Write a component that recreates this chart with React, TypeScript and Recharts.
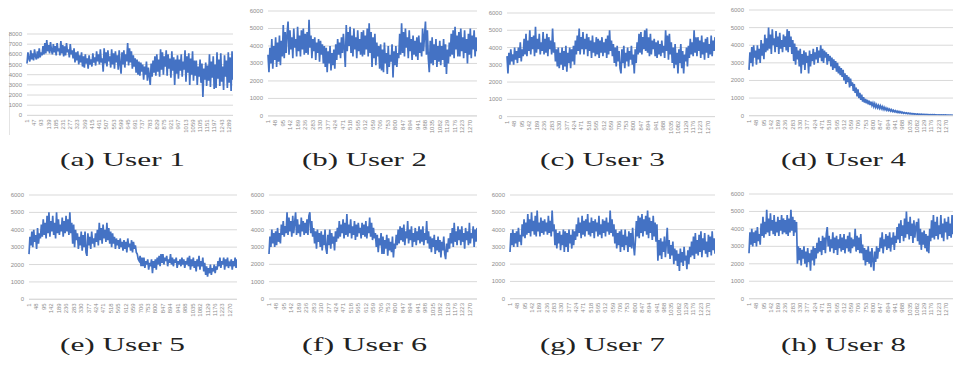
import React from "react";
import { CartesianGrid, Line, LineChart, XAxis, YAxis } from "recharts";

// record number of each plotted sample (every 6th request)
const SAMPLE = Array.from({ length: 220 }, (_, i) => 1 + i * 6);

const ticksUser1 = [
  1, 47, 93, 139, 185, 231, 277, 323, 369, 415, 461, 507, 553, 599, 645, 691, 737, 783, 829, 875, 921,
  967, 1013, 1059, 1105, 1151, 1197, 1243, 1289,
];
const ticksOthers = [
  1, 48, 95, 142, 189, 236, 283, 330, 377, 424, 471, 518, 565, 612, 659, 706, 753, 800, 847, 894, 941,
  988, 1035, 1082, 1129, 1176, 1223, 1270,
];

const user1 = [
  5100, 6200, 5600, 5300, 6400, 5500, 6100, 5400, 6500, 5800, 5500, 6300, 5600, 6600, 5700, 6200, 5900, 6800, 6000, 7100,
  6100, 7400, 6300, 6900, 6100, 7200, 6400, 6000, 7000, 6200, 6800, 5900, 7100, 6300, 6600, 5900, 7300, 6100, 6900, 5800,
  6800, 5900, 7100, 6200, 6500, 5700, 7000, 6000, 6400, 5600, 6600, 5200, 6200, 5400, 6300, 5000, 5900, 5200, 6200, 4800,
  5800, 4700, 6000, 5100, 5600, 4600, 5900, 5000, 5500, 4800, 6100, 5200, 5700, 4900, 6300, 5300, 6000, 5000, 6500, 5200,
  5600, 4300, 6600, 5100, 6200, 4800, 6400, 5300, 5800, 4700, 6500, 5000, 6100, 4600, 6300, 5200, 5900, 4500, 6400, 5000,
  4100, 6200, 5000, 6400, 4700, 6000, 5300, 7100, 4900, 6600, 5200, 6300, 4600, 5900, 4800, 5600, 4200, 5500, 4000, 5300,
  3900, 5200, 4300, 5000, 3500, 4800, 4000, 5300, 3400, 4700, 3900, 3000, 5100, 3800, 5400, 4200, 5800, 3900, 6000, 4300,
  5500, 3800, 6500, 4500, 6200, 4000, 5800, 4800, 6400, 3900, 6000, 4600, 5600, 3700, 6300, 4400, 5700, 3000, 5500, 4100,
  5900, 3600, 5500, 4400, 6000, 3800, 5300, 4500, 6400, 3300, 5800, 4200, 6100, 3000, 5600, 4000, 6300, 3400, 5400, 3900,
  5400, 3000, 4800, 3800, 5500, 3200, 5100, 1800, 4600, 3500, 5200, 2900, 4900, 3400, 6000, 2800, 5300, 3700, 5800, 2600,
  5000, 2700, 6200, 3600, 5500, 2900, 6100, 3300, 4800, 2500, 5900, 3800, 5400, 2700, 6200, 3200, 5700, 2400, 6300, 3500,
];
const user2 = [
  3500, 2500, 3900, 3000, 4400, 2700, 4000, 3200, 4500, 2800, 4200, 3100, 4600, 2900, 4300, 3400, 5200, 3300, 4800, 3600,
  4700, 5400, 3500, 4900, 3800, 4500, 3300, 5000, 3900, 4400, 3400, 5100, 3700, 4600, 3400, 4900, 3800, 5000, 3500, 4700,
  3600, 4800, 3500, 5500, 3900, 4600, 3300, 4400, 3700, 4500, 3200, 4200, 3600, 4400, 3100, 4300, 3500, 4100, 3000, 4000,
  2800, 3900, 2500, 3700, 3000, 4000, 2600, 3600, 2900, 3800, 2700, 4100, 3200, 4400, 3500, 4200, 3300, 4500, 3600, 4700,
  3800, 2800, 5200, 3700, 4800, 4000, 5100, 3600, 4600, 3400, 5000, 3800, 4500, 3300, 4900, 3700, 4400, 3500, 4800, 3400,
  4900, 3500, 4600, 3800, 5000, 3400, 5300, 3600, 4800, 2800, 4500, 3300, 4700, 2900, 4200, 3400, 4000, 2700, 4100, 2600,
  3800, 2500, 4200, 3000, 3600, 2400, 4000, 2800, 3500, 3100, 4100, 2200, 3700, 2900, 4000, 2800, 3600, 3300, 4700, 3500,
  5300, 3600, 4800, 3400, 5000, 3900, 4500, 3300, 4900, 3700, 4400, 3200, 4600, 3500, 4300, 3400, 4500, 3200, 4600, 3600,
  4200, 3400, 5000, 3700, 4600, 5400, 3500, 4900, 3300, 2500, 4300, 3000, 4500, 2900, 4100, 3200, 4400, 2800, 4000, 3100,
  4300, 2900, 4000, 3200, 4400, 2800, 4100, 2400, 3800, 3000, 4200, 3400, 4700, 3500, 4900, 3300, 5100, 3800, 4600, 3400,
  4800, 3400, 5000, 3700, 4500, 3300, 4900, 3600, 4400, 3000, 4700, 3500, 5000, 3300, 4600, 3800, 4900, 3400, 4500, 3700,
];
const user3 = [
  3500, 2500, 3700, 3000, 3900, 3200, 3600, 3000, 4000, 3300, 3800, 3100, 4000, 3400, 4300, 3200, 3900, 3500, 4500, 3600,
  4800, 3500, 4400, 3800, 5000, 3600, 4600, 3900, 4700, 3500, 5200, 3700, 4500, 3900, 4800, 3600, 4300, 3800, 4900, 3600,
  4500, 3700, 4800, 3500, 4600, 3900, 4400, 3600, 5100, 3700, 4300, 3200, 3900, 2900, 4000, 2800, 3700, 3000, 4000, 2700,
  3800, 2900, 4100, 2600, 3700, 3100, 4000, 2800, 3900, 3200, 4100, 3000, 4400, 3600, 4700, 3800, 5100, 3600, 4600, 3900,
  4900, 3600, 4500, 3900, 4800, 3500, 4600, 3800, 4400, 3400, 4700, 3700, 4300, 3500, 4600, 3600, 4500, 3400, 4400, 3700,
  4600, 3500, 4300, 3700, 4500, 3400, 4700, 3600, 5000, 3800, 4400, 3500, 4200, 3100, 4000, 2900, 4100, 3200, 3800, 2800,
  2500, 3900, 3100, 4100, 2800, 3700, 3200, 4000, 2900, 3800, 3300, 4100, 3000, 3600, 2500, 3900, 3100, 4300, 3600, 4800,
  3700, 4900, 3600, 4600, 3900, 5000, 3800, 5100, 3700, 4600, 3500, 4800, 3600, 4400, 3900, 4500, 3500, 4300, 3400, 4400,
  3600, 4200, 3500, 4400, 3700, 4100, 3400, 5000, 3800, 4700, 3300, 4800, 3600, 4300, 3100, 4000, 2800, 4200, 3000, 3700,
  2500, 3900, 3100, 4200, 2800, 3800, 2500, 3600, 3200, 4000, 2900, 4100, 3400, 4500, 3600, 4300, 3500, 5000, 3700, 4600,
  3500, 4600, 3800, 4400, 3400, 4700, 3600, 4300, 3300, 4500, 3700, 4600, 3400, 4200, 3600, 4700, 3500, 4400, 3800, 4600,
];
const user4 = [
  2600, 3600, 3000, 3900, 2800, 4000, 3300, 3700, 2900, 4000, 3200, 3800, 3000, 4300, 3400, 4100, 3200, 4600, 3600, 4400,
  3700, 5000, 3800, 4600, 3500, 4900, 4000, 4400, 3600, 4800, 3900, 4500, 3500, 4700, 3800, 4300, 3600, 4600, 3900, 4500,
  3700, 4900, 3600, 4800, 3900, 4500, 3500, 4300, 3100, 4100, 2900, 3900, 3200, 3700, 2800, 3800, 2400, 3500, 2900, 3700,
  2600, 3600, 3000, 3400, 2400, 3700, 2800, 3500, 3100, 3800, 2900, 3600, 3200, 3900, 3000, 3700, 3300, 4000, 3100, 3800,
  3000, 3700, 3300, 3600, 2900, 3500, 3100, 3400, 2800, 3300, 2600, 3200, 2700, 3100, 2500, 3000, 2400, 2800, 2300, 2700,
  2200, 2600, 2000, 2400, 1800, 2300, 1900, 2200, 1600, 2100, 1700, 1900, 1400, 1800, 1300, 1600, 1100, 1500, 1000, 1300,
  900, 1200, 800, 1050, 750, 950, 700, 900, 650, 850, 600, 800, 580, 720, 520, 680, 480, 620, 450, 580,
  420, 560, 400, 520, 360, 480, 340, 440, 310, 400, 290, 370, 260, 340, 240, 310, 220, 280, 200, 260,
  180, 240, 170, 220, 150, 200, 140, 180, 125, 165, 115, 150, 105, 135, 95, 125, 90, 115, 80, 105,
  75, 95, 70, 90, 65, 85, 60, 78, 58, 72, 55, 68, 52, 64, 50, 60, 47, 57, 45, 55,
  43, 52, 40, 50, 38, 47, 36, 45, 34, 42, 32, 40, 30, 38, 28, 36, 27, 34, 25, 32,
];
const user5 = [
  2600, 3600, 3100, 3900, 3000, 4000, 3300, 3700, 2900, 4100, 3200, 3800, 3500, 4300, 3600, 4600, 3700, 4400, 3500, 4800,
  3800, 5000, 3600, 4500, 3900, 4800, 3700, 4400, 3500, 5000, 3800, 4600, 3700, 4300, 3900, 4700, 3600, 4500, 3800, 4800,
  3900, 4600, 3700, 5000, 3800, 4400, 3200, 4300, 3000, 4000, 3400, 3800, 2900, 3600, 3100, 3900, 2800, 3700, 3000, 3900,
  2700, 2500, 3800, 3100, 3600, 2900, 3900, 3200, 3500, 3000, 3800, 3300, 4000, 3100, 4400, 3400, 4100, 3200, 4300, 3500,
  4000, 3300, 4400, 3400, 4100, 3200, 3900, 3000, 3800, 3200, 3600, 2900, 3500, 3100, 3400, 2900, 3500, 3000, 3300, 2800,
  3400, 2900, 3300, 2700, 3500, 3000, 3200, 2800, 3400, 2700, 3300, 2900, 3100, 2700, 2600, 2300, 2200, 2500, 1900, 2400,
  1900, 2400, 1800, 2200, 2000, 2300, 1700, 2100, 1900, 2300, 1500, 2200, 1800, 2300, 1700, 2400, 2000, 2500, 1900, 2600,
  2100, 2600, 2000, 2400, 2200, 2500, 1900, 2300, 2100, 2600, 2000, 2400, 1900, 2300, 2100, 2400, 1800, 2200, 2000, 2300,
  1900, 2400, 2000, 2300, 1800, 2200, 2000, 2400, 1900, 2500, 1700, 2300, 1900, 2400, 1800, 2200, 1600, 2300, 1900, 2500,
  1700, 2200, 1900, 2400, 1600, 2100, 1400, 1900, 1300, 1800, 1500, 2000, 1400, 1800, 1600, 2000, 1500, 1900, 1700, 2200,
  1900, 2400, 1800, 2200, 2000, 2400, 1700, 2300, 1900, 2400, 1800, 2100, 2000, 2300, 1700, 2200, 1900, 2400, 1800, 2300,
];
const user6 = [
  2600, 3600, 3000, 4000, 3200, 3800, 3000, 3900, 3100, 4100, 3300, 3800, 3200, 4300, 3700, 4500, 3600, 4200, 3800, 5000,
  3700, 4700, 3900, 4500, 3600, 4800, 3800, 4400, 5000, 3700, 4600, 3800, 4300, 3600, 4700, 3900, 4500, 3700, 4400, 3800,
  4600, 3700, 4800, 5000, 3800, 4500, 3600, 4100, 3200, 3900, 2900, 4000, 3300, 3800, 3000, 3900, 2800, 3700, 3100, 4000,
  2900, 2600, 3700, 3100, 4000, 2900, 3800, 3200, 3600, 2800, 3900, 3300, 4100, 3500, 4500, 3600, 4300, 3800, 4600, 3500,
  4400, 3700, 4900, 3600, 4300, 3800, 4600, 3500, 4200, 3700, 4500, 3400, 4300, 3600, 4400, 3800, 4100, 3500, 4400, 3700,
  4300, 3600, 4500, 3500, 4200, 3800, 4700, 3600, 4400, 3400, 4100, 3500, 3800, 3000, 3700, 2700, 3500, 3100, 3800, 2600,
  3600, 2600, 3400, 2900, 3700, 2500, 3500, 2800, 3300, 2700, 3600, 2400, 3200, 2900, 3700, 3100, 4000, 3200, 4200, 3400,
  4100, 3300, 4300, 3100, 3900, 3500, 4500, 3200, 4000, 3400, 4200, 3000, 3800, 3300, 4100, 3100, 3900, 3400, 4200, 3200,
  4000, 3300, 4200, 3100, 3800, 3400, 4500, 3200, 3900, 2900, 3600, 2700, 3500, 3000, 3700, 2600, 3400, 2800, 3600, 2700,
  3400, 2400, 3300, 2800, 3600, 2600, 2300, 3200, 2700, 3500, 2900, 3800, 3200, 4100, 3000, 4400, 3300, 3900, 3100, 4200,
  3400, 4000, 3100, 4200, 3300, 3800, 2900, 4100, 3400, 3900, 3100, 4400, 3200, 3800, 3500, 4200, 3000, 4000, 3300, 4100,
];
const user7 = [
  2700, 3800, 3100, 4000, 3000, 3800, 3200, 3900, 3000, 4100, 3300, 3700, 3100, 4300, 3600, 4600, 3500, 4400, 3700, 4900,
  3800, 4600, 3600, 5000, 3900, 4500, 3700, 4800, 3600, 5100, 3900, 4400, 3600, 4700, 3800, 4500, 3700, 4600, 3900, 4400,
  3700, 4800, 3800, 4500, 3600, 5100, 3900, 4300, 3100, 4000, 2900, 3800, 3200, 3900, 2800, 3700, 3100, 4000, 2700, 3900,
  3000, 3800, 2700, 4000, 3200, 3700, 2900, 4000, 3100, 3900, 3400, 4300, 3600, 4700, 3800, 4400, 3500, 4800, 3700, 4500,
  3600, 4600, 3900, 4900, 3700, 4400, 3600, 4700, 3800, 4500, 3500, 4600, 3900, 4400, 3600, 4800, 3700, 4300, 3500, 4600,
  3800, 4500, 3600, 4700, 3900, 4400, 3700, 5100, 3800, 4600, 3600, 4300, 3200, 4000, 2900, 3800, 3100, 3900, 2700, 4000,
  3000, 3700, 2800, 4000, 3100, 3600, 2700, 3900, 3000, 3800, 2900, 4100, 3100, 2500, 3400, 4500, 3600, 4800, 3500, 4700,
  3800, 4900, 3600, 4600, 3900, 4800, 3700, 5100, 3500, 4700, 3800, 4500, 3400, 4800, 3600, 4400, 3300, 4300, 2200, 3400,
  2500, 3500, 2300, 3300, 2700, 3600, 2400, 3200, 4100, 2600, 3400, 2300, 3100, 2500, 3300, 2000, 2900, 2200, 2800, 1900,
  2600, 1600, 2900, 2100, 2700, 1900, 3000, 2200, 2500, 1700, 2800, 2000, 3000, 2400, 3300, 2500, 3600, 2300, 3800, 2600,
  3400, 2500, 3700, 2700, 3900, 2400, 3500, 2800, 3800, 2600, 3300, 2400, 3700, 2700, 3600, 2500, 3900, 2800, 3500, 2600,
];
const user8 = [
  2600, 3800, 3100, 4000, 3000, 3800, 3200, 3900, 3000, 4100, 3300, 3700, 3100, 4300, 3600, 4700, 3500, 4400, 3700, 5100,
  3800, 4600, 3600, 4900, 3900, 4500, 3700, 4800, 3600, 4400, 3800, 4700, 3600, 4500, 3900, 4800, 3700, 4600, 3800, 4500,
  3700, 4800, 3600, 4600, 3800, 5100, 3900, 4700, 3600, 4500, 3800, 4400, 2000, 3000, 2200, 2900, 1900, 2800, 2300, 3000,
  2000, 2700, 1800, 2900, 2100, 2600, 1600, 2800, 2200, 3000, 1900, 2900, 2300, 3200, 2600, 3500, 2700, 3300, 2500, 3600,
  2800, 3500, 2600, 3700, 4100, 3000, 3600, 2700, 3400, 2900, 3800, 2600, 3500, 2800, 3600, 2500, 3400, 2900, 3700, 2700,
  3500, 2800, 3700, 2600, 3400, 2900, 3600, 2700, 3800, 2600, 3500, 2900, 3400, 3000, 4000, 2700, 3600, 2800, 3500, 2600,
  3700, 2600, 3100, 2200, 2900, 1900, 2800, 2100, 3000, 2000, 2700, 1800, 2900, 2200, 1600, 2700, 2100, 3000, 2300, 2900,
  2700, 3500, 2900, 3800, 2600, 3400, 3000, 3700, 2800, 3600, 2900, 3800, 2700, 3500, 3100, 3800, 2800, 3600, 3200, 4100,
  3400, 4300, 3200, 4500, 3600, 4200, 3300, 4600, 3500, 5000, 3700, 4400, 3400, 4700, 3600, 4300, 3200, 4500, 3500, 4100,
  4400, 3300, 4600, 3100, 4000, 2800, 3800, 3100, 3900, 2900, 3700, 2700, 3600, 2600, 4000, 3300, 4500, 3500, 4800, 3400,
  4400, 3600, 4700, 3400, 4200, 3700, 4800, 3500, 4300, 3300, 4600, 3800, 4400, 3400, 4700, 3600, 4300, 3500, 4800, 3700,
];

const ticks8000 = [0, 1000, 2000, 3000, 4000, 5000, 6000, 7000, 8000];
const ticks6000 = [0, 1000, 2000, 3000, 4000, 5000, 6000];

const BLUE = "#4472C4";
const GRID = "#d9d9d9";
const LABEL = "#8c8c8c";
const Y_AXIS_W = 24;
const X_AXIS_H = 24;
const TOP_PAD = 6;

type Panel = {
  caption: string;
  values: number[];
  xTicks: number[];
  yTicks: number[];
  left: number; // plot area left edge
  right: number; // plot area right edge
  top: number; // y of the highest gridline
  zero: number; // y of the zero line
  capX: number;
  capY: number;
};

const panels: Panel[] = [
  { caption: "(a) User 1", values: user1, xTicks: ticksUser1, yTicks: ticks8000, left: 27, right: 233, top: 34.3, zero: 115.7, capX: 60, capY: 166 },
  { caption: "(b) User 2", values: user2, xTicks: ticksOthers, yTicks: ticks6000, left: 268, right: 477, top: 10.8, zero: 115.7, capX: 302, capY: 166 },
  { caption: "(c) User 3", values: user3, xTicks: ticksOthers, yTicks: ticks6000, left: 507, right: 715, top: 13.4, zero: 117, capX: 540, capY: 166 },
  { caption: "(d) User 4", values: user4, xTicks: ticksOthers, yTicks: ticks6000, left: 749, right: 953, top: 10, zero: 115.7, capX: 781, capY: 166 },
  { caption: "(e) User 5", values: user5, xTicks: ticksOthers, yTicks: ticks6000, left: 29, right: 237, top: 194.7, zero: 299, capX: 60, capY: 351 },
  { caption: "(f) User 6", values: user6, xTicks: ticksOthers, yTicks: ticks6000, left: 269, right: 477, top: 195.3, zero: 299.3, capX: 302, capY: 351 },
  { caption: "(g) User 7", values: user7, xTicks: ticksOthers, yTicks: ticks6000, left: 510, right: 715, top: 195.3, zero: 299, capX: 540, capY: 351 },
  { caption: "(h) User 8", values: user8, xTicks: ticksOthers, yTicks: ticks6000, left: 749, right: 953, top: 194, zero: 298.7, capX: 781, capY: 351 },
];

function XTick({ x, y, payload }: { x?: number; y?: number; payload?: { value: number } }) {
  return (
    <text
      x={x}
      y={y}
      transform={`rotate(-90 ${x} ${y})`}
      textAnchor="end"
      dominantBaseline="central"
      fontSize={6}
      fill={LABEL}
      fontFamily="Liberation Sans, Arial, sans-serif"
    >
      {payload?.value}
    </text>
  );
}

function YTick({ x, y, payload }: { x?: number; y?: number; payload?: { value: number } }) {
  return (
    <text
      x={x}
      y={y}
      textAnchor="end"
      dominantBaseline="central"
      fontSize={6}
      fill={LABEL}
      fontFamily="Liberation Sans, Arial, sans-serif"
    >
      {payload?.value}
    </text>
  );
}

function UserChart({ p }: { p: Panel }) {
  const rows = p.values.map((v, i) => ({ n: SAMPLE[i], v }));
  const boxX = p.left - Y_AXIS_W;
  const boxY = p.top - TOP_PAD;
  const w = p.right - boxX;
  const h = TOP_PAD + (p.zero - p.top) + X_AXIS_H;
  const yMax = p.yTicks[p.yTicks.length - 1];
  return (
    <div style={{ position: "absolute", left: boxX, top: boxY, width: w, height: h }}>
      <LineChart width={w} height={h} data={rows} margin={{ top: TOP_PAD, right: 0, bottom: 0, left: 0 }}>
        <CartesianGrid vertical={false} stroke={GRID} strokeWidth={1} />
        <XAxis
          dataKey="n"
          type="number"
          domain={[1, 1315]}
          ticks={p.xTicks}
          interval={0}
          height={X_AXIS_H}
          stroke={GRID}
          tickLine={false}
          tickSize={3}
          tickMargin={1}
          tick={<XTick />}
        />
        <YAxis
          type="number"
          domain={[0, yMax]}
          ticks={p.yTicks}
          interval={0}
          width={Y_AXIS_W}
          axisLine={false}
          tickLine={false}
          tickSize={3}
          tickMargin={2}
          tick={<YTick />}
        />
        <Line
          type="linear"
          dataKey="v"
          stroke={BLUE}
          strokeWidth={1.7}
          dot={false}
          isAnimationActive={false}
        />
      </LineChart>
    </div>
  );
}

export default function App() {
  return (
    <div style={{ position: "absolute", left: 0, top: 0, width: 953, height: 367, background: "#fff", overflow: "hidden" }}>
      {/* faint frame edge left of the first panel */}
      <div style={{ position: "absolute", left: 9, top: 32, width: 1, height: 103, background: "#e4e4e4" }} />
      {panels.map((p) => (
        <UserChart key={p.caption} p={p} />
      ))}
      <svg width={953} height={367} style={{ position: "absolute", left: 0, top: 0, pointerEvents: "none" }}>
        {panels.map((p) => (
          <text
            key={p.caption}
            x={p.capX}
            y={p.capY}
            fontSize={19}
            fontFamily="'Liberation Serif', serif"
            fill="#222"
            textLength={125}
            lengthAdjust="spacingAndGlyphs"
          >
            {p.caption}
          </text>
        ))}
      </svg>
    </div>
  );
}
